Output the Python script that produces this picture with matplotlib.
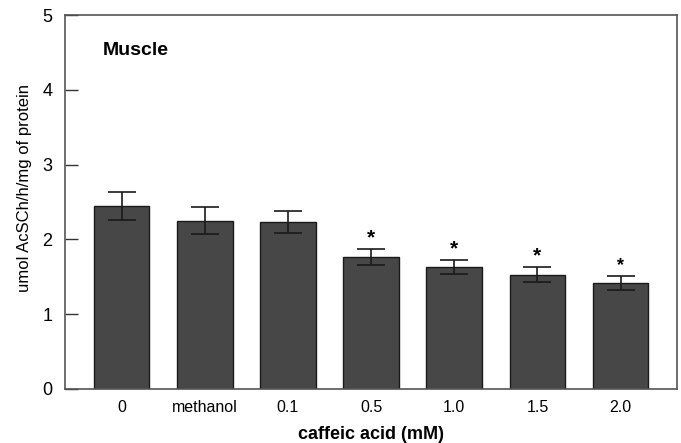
import matplotlib
matplotlib.use("Agg")
import matplotlib.pyplot as plt

plt.rcParams['font.family'] = ['Liberation Sans', 'DejaVu Sans']

categories = ["0", "methanol", "0.1", "0.5", "1.0", "1.5", "2.0"]
activity = [2.45, 2.25, 2.23, 1.765, 1.635, 1.53, 1.42]
errors = [0.19, 0.18, 0.15, 0.105, 0.095, 0.105, 0.095]
significant = [False, False, False, True, True, True, True]

fig = plt.figure(figsize=(6.81, 4.43), dpi=100)
ax = fig.add_axes([0.0954, 0.122, 0.899, 0.844])

x = list(range(len(categories)))
ax.bar(x, activity, width=0.67, color="#474747", edgecolor="#1a1a1a", linewidth=1.0, zorder=2)
ax.errorbar(x, activity, yerr=errors, fmt="none", ecolor="#1a1a1a", elinewidth=1.2,
            capsize=10, capthick=1.2, zorder=3)

# significance stars
star_sizes = [15, 15, 15, 15, 15, 15, 13]
for xi, v, e, s, fs in zip(x, activity, errors, significant, star_sizes):
    if s:
        ax.annotate("*", (xi, v + e), xytext=(0, 1), textcoords="offset points",
                    ha="center", va="bottom", fontsize=fs, fontweight="bold")

ax.set_xlim(-0.68, 6.68)
ax.set_ylim(0, 5)
ax.set_yticks([0, 1, 2, 3, 4, 5])
ax.set_xticks(x)
ax.set_xticklabels(categories)
ax.tick_params(axis="y", direction="in", length=9, width=1, labelsize=13, pad=9, color="#333333")
ax.tick_params(axis="x", length=0, labelsize=11.5, pad=8)
for sp in ax.spines.values():
    sp.set_color("#555555")
    sp.set_linewidth(1.2)

ax.text(0.062, 0.906, "Muscle", transform=ax.transAxes, fontsize=14, fontweight="bold",
        va="center", ha="left")
ax.set_ylabel("umol AcSCh/h/mg of protein", fontsize=12)
ax.yaxis.set_label_coords(-0.054, 0.537)
ax.set_xlabel("caffeic acid (mM)", fontsize=13, fontweight="bold", labelpad=8)

fig.savefig("out.png", dpi=100)
